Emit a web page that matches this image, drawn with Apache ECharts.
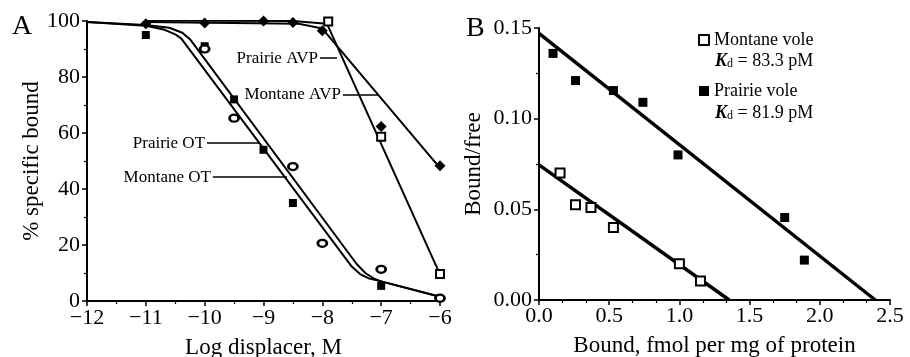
<!DOCTYPE html>
<html>
<head>
<meta charset="utf-8">
<script src="https://cdn.jsdelivr.net/npm/echarts@6/dist/echarts.min.js"></script>
<style>
  html, body { margin: 0; padding: 0; background: #fff; }
  #chart { width: 910px; height: 357px; }
</style>
</head>
<body>
<div id="chart"></div>
<script>
// ---- panel A: competition curves ----
const prairieOT = [[-11, 95], [-10, 91], [-9.5, 72], [-9, 54], [-8.5, 35], [-7, 5.4]];
const montaneOT = [[-12, 101.5], [-10, 90], [-9.5, 65.3], [-8.5, 48], [-8, 20.6], [-7, 11.3], [-6, 1]];
const prairieAVP = [[-11, 100.5], [-10, 100.7], [-8.5, 100.7], [-7.9, 99.8], [-7, 58.7], [-6, 9.6]];
const montaneAVP = [[-11, 99], [-10, 99.3], [-9.5, 100.7], [-9, 100], [-8.5, 99.5], [-8, 96.5], [-7, 62.3], [-6, 48.3]];

// fitted curves, vertices
const prairieOTFit = [[-12, 99.6], [-11, 98.3], [-10.7, 97], [-10.5, 95.2], [-10.4, 93.8], [-7.5, 12.3], [-7.35, 9.5], [-7.2, 8], [-7, 7], [-6, 1.5]];
const montaneOTFit = [[-12, 99.6], [-11, 98.6], [-10.6, 97.6], [-10.38, 95.8], [-10.25, 93.5], [-7.42, 13.3], [-7.27, 10], [-7.12, 8], [-7, 7], [-6, 1.5]];
const prairieAVPFit = [[-11, 100.2], [-8.5, 100], [-7.92, 99], [-6, 9.5]];
const montaneAVPFit = [[-11, 99.6], [-8.4, 99], [-8.0, 97.3], [-6.02, 48]];

// leader lines for the curve labels: [label, y, xStart, xEnd]
const leaders = [
  ["Prairie OT", 56.4, -9.96, -9.06],
  ["Montane OT", 44.2, -9.86, -8.6],
  ["Prairie AVP", 86.7, -8.04, -7.75],
  ["Montane AVP", 73.75, -7.65, -7.05],
];

// ---- panel B: Scatchard plot ----
const montaneBound = [0.15, 0.26, 0.37, 0.53, 1.0, 1.15];
const montaneRatio = [0.070, 0.0525, 0.051, 0.040, 0.020, 0.0105];
const prairieBound = [0.1, 0.26, 0.53, 0.74, 0.99, 1.75, 1.89];
const prairieRatio = [0.136, 0.121, 0.1155, 0.109, 0.080, 0.0455, 0.022];
const montaneLine = [[0, 0.0745], [1.355, 0]];
const prairieLine = [[0, 0.147], [2.395, 0]];
const kdLabels = ["83.3 pM", "81.9 pM"];

const serif = "Liberation Serif";
const minus = (v) => String(v).replace("-", "\u2212");

const axisCommon = {
  axisLine: { lineStyle: { color: "#000", width: 2 } },
  axisTick: { inside: false, length: 5, lineStyle: { color: "#000", width: 1.5 } },
  minorTick: { show: true, splitNumber: 2, length: 3, lineStyle: { color: "#000", width: 1.2 } },
  splitLine: { show: false },
  axisLabel: { color: "#000", fontFamily: serif, fontSize: 22 },
  nameTextStyle: { color: "#000", fontFamily: serif, fontSize: 23 },
  nameLocation: "middle",
};

const chart = echarts.init(document.getElementById("chart"));

const dot = (data, name, symbol, size, filled, border = 2) => ({
  name,
  type: "scatter",
  data,
  symbol,
  symbolSize: size,
  itemStyle: filled
    ? { color: "#000", opacity: 1 }
    : { color: "#fff", borderColor: "#000", borderWidth: border, opacity: 1 },
  z: 5,
});

const fit = (data, xi, width) => ({
  type: "line",
  data,
  xAxisIndex: xi,
  yAxisIndex: xi,
  showSymbol: false,
  lineStyle: { color: "#000", width },
  silent: true,
  z: 3,
});

const leaderSeries = {
  type: "line",
  data: [],
  markLine: {
    silent: true,
    symbol: "none",
    lineStyle: { color: "#000", width: 1.5, type: "solid" },
    label: { position: "start", distance: 2, color: "#000", fontFamily: serif, fontSize: 17, formatter: (p) => p.name },
    data: leaders.map(([name, y, x0, x1]) => [{ name, coord: [x0, y] }, { coord: [x1, y] }]),
  },
};

const option = {
  animation: false,
  textStyle: { fontFamily: serif },
  grid: [
    { left: 87, right: 470, top: 21, bottom: 56, outerBoundsMode: "none" },
    { left: 539, right: 20, top: 28, bottom: 57, outerBoundsMode: "none" },
  ],
  xAxis: [
    {
      ...axisCommon,
      gridIndex: 0,
      type: "value",
      min: -12,
      max: -6,
      interval: 1,
      name: "Log displacer, M",
      nameGap: 35,
      axisLabel: { ...axisCommon.axisLabel, margin: 6, formatter: minus },
    },
    {
      ...axisCommon,
      gridIndex: 1,
      type: "value",
      min: 0,
      max: 2.5,
      interval: 0.5,
      name: "Bound, fmol per mg of protein",
      nameGap: 34,
      minorTick: { ...axisCommon.minorTick, splitNumber: 3 },
      axisLabel: { ...axisCommon.axisLabel, margin: 5, formatter: (v) => v.toFixed(1) },
    },
  ],
  yAxis: [
    {
      ...axisCommon,
      gridIndex: 0,
      type: "value",
      min: 0,
      max: 100,
      interval: 20,
      name: "% specific bound",
      nameGap: 43,
      axisLabel: { ...axisCommon.axisLabel, margin: 7 },
    },
    {
      ...axisCommon,
      gridIndex: 1,
      type: "value",
      min: 0,
      max: 0.15,
      interval: 0.05,
      name: "Bound/free",
      nameGap: 54,
      axisLabel: { ...axisCommon.axisLabel, margin: 7, formatter: (v) => v.toFixed(2) },
    },
  ],
  legend: {
    left: 693,
    top: 26,
    orient: "vertical",
    itemWidth: 10,
    itemHeight: 10,
    itemGap: 33,
    textStyle: { color: "#000", fontFamily: serif, fontSize: 18 },
    data: ["Montane vole", "Prairie vole"],
  },
  graphic: [
    { type: "text", left: 12, top: 13, style: { text: "A", font: "28px " + serif, fill: "#000" } },
    { type: "text", left: 466, top: 15, style: { text: "B", font: "28px " + serif, fill: "#000" } },
    ...kdLabels.map((kd, i) => ({
      type: "text",
      left: 715,
      top: 52 + i * 52,
      style: {
        text: "{k|K}{d|d} = " + kd,
        font: "18px " + serif,
        fill: "#000",
        rich: {
          k: { fontFamily: serif, fontSize: 18, fontStyle: "italic", fontWeight: "bold" },
          d: { fontFamily: serif, fontSize: 12, verticalAlign: "bottom", padding: [6, 0, 0, 0] },
        },
      },
    })),
  ],
  series: [
    fit(prairieOTFit, 0, 2),
    fit(montaneOTFit, 0, 2),
    fit(prairieAVPFit, 0, 2),
    fit(montaneAVPFit, 0, 2),
    leaderSeries,
    dot(prairieOT, "Prairie OT", "rect", 8, true),
    dot(montaneOT, "Montane OT", "circle", [9, 7], false, 2.5),
    dot(prairieAVP, "Prairie AVP", "rect", 8, false),
    dot(montaneAVP, "Montane AVP", "diamond", 11, true),
    fit(montaneLine, 1, 3.5),
    fit(prairieLine, 1, 3.5),
    {
      ...dot(montaneBound.map((x, i) => [x, montaneRatio[i]]), "Montane vole", "rect", 9, false),
      xAxisIndex: 1,
      yAxisIndex: 1,
    },
    {
      ...dot(prairieBound.map((x, i) => [x, prairieRatio[i]]), "Prairie vole", "rect", 9, true),
      xAxisIndex: 1,
      yAxisIndex: 1,
    },
  ],
};

chart.setOption(option);
</script>
</body>
</html>
